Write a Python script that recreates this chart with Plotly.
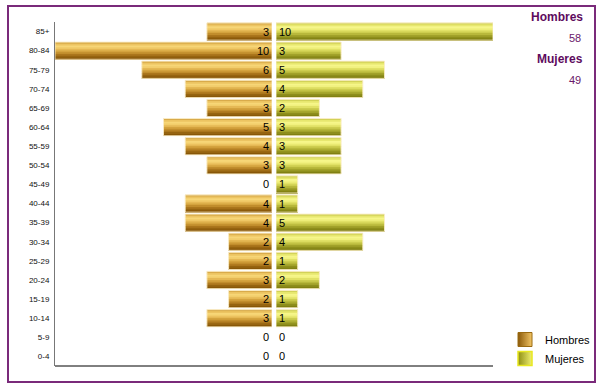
import plotly.graph_objects as go

categories = ["85+", "80-84", "75-79", "70-74", "65-69", "60-64", "55-59", "50-54", "45-49",
              "40-44", "35-39", "30-34", "25-29", "20-24", "15-19", "10-14", "5-9", "0-4"]
hombres = [3, 10, 6, 4, 3, 5, 4, 3, 0, 4, 4, 2, 2, 3, 2, 3, 0, 0]
mujeres = [10, 3, 5, 4, 2, 3, 3, 3, 1, 1, 5, 4, 1, 2, 1, 1, 0, 0]
series_names = ["Hombres", "Mujeres"]

FONT = "Liberation Sans, Arial, sans-serif"
PURPLE = "#5e0b5e"

gold = ["#d9ab4a", "#ecc462", "#f7d677", "#f2cd6b", "#e5b854", "#d4a33e", "#c18d2c",
        "#ab761c", "#966410", "#885708"]
olive = ["#d2d258", "#e7e76f", "#f6f68a", "#f1f17f", "#e1e166", "#cdcd4f", "#b8b83b",
         "#a2a22a", "#8e8e1c", "#808012"]

W = 0.9
N = len(gold)
h = W / N

fig = go.Figure()

for side, vals, cols, xa in [(0, hombres, gold, "x"), (1, mujeres, olive, "x2")]:
    for i, c in enumerate(cols):
        fig.add_trace(go.Bar(
            y=categories, x=vals, orientation="h", xaxis=xa, yaxis="y",
            width=h * 1.05, offset=W / 2 - (i + 1) * h,
            marker=dict(color=c, line=dict(width=0)),
            showlegend=False, hoverinfo="skip"))
    fig.add_trace(go.Bar(
        y=categories, x=vals, orientation="h", xaxis=xa, yaxis="y",
        width=W, offset=-W / 2,
        marker=dict(color="rgba(0,0,0,0)",
                    line=dict(color="rgba(250,236,200,0.9)",
                              width=[1 if v > 0 else 0 for v in vals])),
        showlegend=False, hoverinfo="skip"))

# legend entries
fig.add_trace(go.Scatter(x=[None], y=[None], mode="markers", name=series_names[0],
                         xaxis="x2", yaxis="y",
                         marker=dict(symbol="square", size=14, color="#8a5808",
                                     gradient=dict(type="horizontal", color="#f2c565"),
                                     line=dict(color="#9a6a10", width=1))))
fig.add_trace(go.Scatter(x=[None], y=[None], mode="markers", name=series_names[1],
                         xaxis="x2", yaxis="y",
                         marker=dict(symbol="square", size=14, color="#8e8e14",
                                     gradient=dict(type="horizontal", color="#f0f070"),
                                     line=dict(color="#e8e820", width=1.5))))

annotations = []
for cat, v in zip(categories, hombres):
    annotations.append(dict(xref="x", yref="y", x=0, y=cat, text=str(v), showarrow=False,
                            xanchor="right", xshift=-1, font=dict(size=11, color="#000000", family=FONT)))
for cat, v in zip(categories, mujeres):
    annotations.append(dict(xref="x2", yref="y", x=0, y=cat, text=str(v), showarrow=False,
                            xanchor="left", xshift=1, font=dict(size=11, color="#000000", family=FONT)))

totals = [sum(hombres), sum(mujeres)]
tx = (585 - 55) / 438
for k, (name, tot) in enumerate(zip(series_names, totals)):
    y_name = (366 - (17 + 42 * k)) / 344
    y_tot = (366 - (38 + 42 * k)) / 344
    annotations.append(dict(xref="paper", yref="paper", x=tx, y=y_name, text="<b>%s</b>" % name,
                            showarrow=False, xanchor="right", yanchor="middle",
                            font=dict(size=12, color=PURPLE, family=FONT)))
    annotations.append(dict(xref="paper", yref="paper", x=tx - 0.004, y=y_tot, text=str(tot),
                            showarrow=False, xanchor="right", yanchor="middle",
                            font=dict(size=11, color="#6a186a", family=FONT)))

shapes = [
    dict(type="line", xref="paper", yref="paper", x0=0, x1=1, y0=0, y1=0,
         line=dict(color="#000", width=1)),
    dict(type="rect", xref="paper", yref="paper",
         x0=(8 - 55) / 438, x1=(595 - 55) / 438, y0=(366 - 382) / 344, y1=(366 - 6) / 344,
         line=dict(color="#7a2a7a", width=2), fillcolor="rgba(0,0,0,0)"),
]

split = (272 - 55) / 438
fig.update_layout(
    width=600, height=388,
    margin=dict(l=55, r=107, t=22, b=22, autoexpand=False),
    paper_bgcolor="white", plot_bgcolor="white",
    barmode="overlay",
    font=dict(family=FONT),
    xaxis=dict(domain=[0, split], range=[10, 0], visible=False, fixedrange=True),
    xaxis2=dict(domain=[(276 - 55) / 438, 1], range=[0, 10], visible=False, anchor="y",
                fixedrange=True),
    yaxis=dict(categoryorder="array", categoryarray=categories[::-1], showgrid=False,
               showline=True, linecolor="#777", linewidth=1, ticks="",
               tickfont=dict(size=8, color="#111", family=FONT), ticklabelstandoff=3,
               range=[-0.5, len(categories) - 0.5], fixedrange=True),
    legend=dict(x=(505 - 55) / 438, y=(366 - 325) / 344, xanchor="left", yanchor="top",
                font=dict(size=11, color="#000", family=FONT), bgcolor="rgba(0,0,0,0)",
                tracegroupgap=0, itemwidth=30),
    annotations=annotations,
    shapes=shapes,
    showlegend=True,
)

fig.write_html("out.html")
